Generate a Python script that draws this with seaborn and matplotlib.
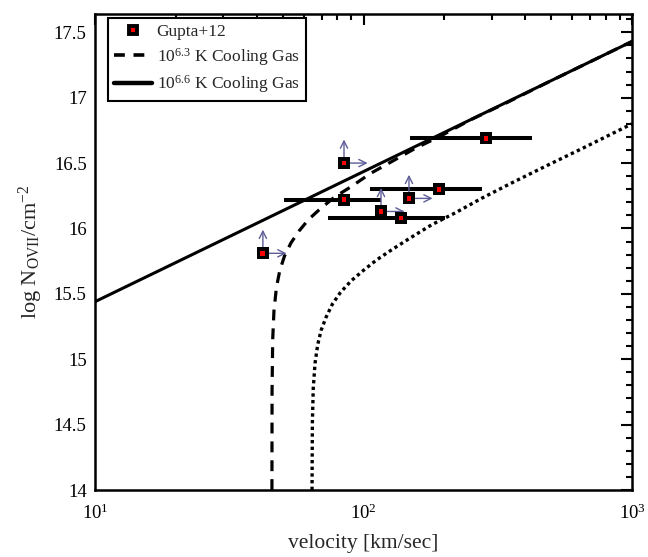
import math
import matplotlib
matplotlib.use("Agg")
import matplotlib.pyplot as plt
import matplotlib.ticker as mticker
from matplotlib.lines import Line2D
import seaborn as sns
import pandas as pd

# ---- data ----
solid_v = [10, 1000]
solid_logN = [15.44, 17.43]

dashed_v = [45.6, 45.65, 45.9, 46.4, 47.4, 48.8, 50.8, 53.7, 57.5, 62.5, 69, 78, 90, 106,
            127, 155, 195, 250, 340, 500, 1000]
dashed_logN = [14.0, 14.76, 15.15, 15.37, 15.55, 15.68, 15.79, 15.89, 15.98, 16.07, 16.15,
               16.24, 16.32, 16.42, 16.51, 16.61, 16.71, 16.83, 16.96, 17.13, 17.43]

dotted_v = [64.32, 64.5, 65.0, 66.0, 67.5, 69.5, 72.5, 76.5, 82, 90, 100, 112, 128, 150,
            180, 220, 275, 350, 470, 650, 1000]
dotted_logN = [14.0, 14.51, 14.78, 14.97, 15.11, 15.22, 15.32, 15.42, 15.51, 15.60, 15.68,
               15.76, 15.84, 15.93, 16.03, 16.12, 16.23, 16.34, 16.47, 16.61, 16.80]

# Gupta+12 measurements with velocity ranges
err_v = [84.6, 137.9, 191.1, 285.8]
err_logN = [16.22, 16.08, 16.30, 16.69]
err_vlo = [50.6, 73.8, 105.7, 149.0]
err_vhi = [116.2, 201.2, 276.2, 424.2]

# Gupta+12 lower limits
lim_v = [42.2, 84.6, 147.7, 116.2]
lim_logN = [15.81, 16.50, 16.23, 16.13]

legend_labels = ["Gupta+12", r"$10^{6.3}$ K Cooling Gas", r"$10^{6.6}$ K Cooling Gas"]

# ---- style ----
sns.set_theme(style="white")
plt.rcParams['font.family'] = ['Liberation Serif', 'DejaVu Serif']
plt.rcParams['mathtext.fontset'] = 'custom'
plt.rcParams['mathtext.rm'] = 'Liberation Serif'
plt.rcParams['mathtext.it'] = 'Liberation Serif:italic'

W, H = 648, 557
fig = plt.figure(figsize=(W / 100, H / 100), dpi=100)
ax = fig.add_axes([95 / W, 1 - 490 / H, (632 - 95) / W, (490 - 14) / H])

sns.lineplot(x=solid_v, y=solid_logN, ax=ax, color='black', lw=2.2, sort=False, estimator=None)
sns.lineplot(x=dashed_v, y=dashed_logN, ax=ax, color='black', lw=2.3, sort=False,
             estimator=None, linestyle=(0, (3.4, 2.5)))
sns.lineplot(x=dotted_v, y=dotted_logN, ax=ax, color='black', lw=2.4, sort=False,
             estimator=None, linestyle=(0, (1.0, 1.0)))

# horizontal error bars
for v, n, lo, hi in zip(err_v, err_logN, err_vlo, err_vhi):
    ax.plot([lo, hi], [n, n], color='black', lw=2.9, solid_capstyle='butt', zorder=3)

# lower-limit arrows
arrow_col = '#5d5d98'
for v, n in zip(lim_v, lim_logN):
    ax.annotate('', xy=(v, n), xytext=(0, 17), textcoords='offset points',
                arrowprops=dict(arrowstyle='<-', color=arrow_col, lw=1.0,
                                shrinkA=0, shrinkB=4, mutation_scale=13), zorder=3)
    ax.annotate('', xy=(v, n), xytext=(17, 0), textcoords='offset points',
                arrowprops=dict(arrowstyle='<-', color=arrow_col, lw=1.0,
                                shrinkA=0, shrinkB=4, mutation_scale=13), zorder=3)

pts = pd.DataFrame({'v': err_v + lim_v, 'logN': err_logN + lim_logN})
sns.scatterplot(data=pts, x='v', y='logN', ax=ax, marker='s', s=70, color='black',
                edgecolor='black', linewidth=0, zorder=4)
sns.scatterplot(data=pts, x='v', y='logN', ax=ax, marker='s', s=12, color='red',
                edgecolor='none', linewidth=0, zorder=5)

ax.set_xscale('log')
ax.set_xlim(10, 1000)
ax.set_ylim(14, 17.64)

ax.yaxis.set_major_locator(mticker.MultipleLocator(0.5))
ax.yaxis.set_minor_locator(mticker.MultipleLocator(0.1))
ax.yaxis.set_major_formatter(mticker.FuncFormatter(lambda y, p: f"{y:g}"))
ax.xaxis.set_major_locator(mticker.LogLocator(base=10))
ax.xaxis.set_minor_locator(mticker.LogLocator(base=10, subs=range(2, 10)))
ax.xaxis.set_minor_formatter(mticker.NullFormatter())
ax.xaxis.set_major_formatter(mticker.FuncFormatter(lambda x, p: r"$10^{%d}$" % round(math.log10(x))))

ax.tick_params(which='both', direction='in', top=True, right=True, colors='black',
               labelsize=13.5, width=1.5)
ax.tick_params(which='major', length=8)
ax.tick_params(axis='y', which='major', pad=6)
ax.tick_params(axis='x', which='major', pad=10)
ax.tick_params(which='minor', length=4.5)
for s in ax.spines.values():
    s.set_linewidth(1.8)
    s.set_color('black')

ax.set_xlabel("velocity [km/sec]", fontsize=15.5, labelpad=8)
ax.set_ylabel(r"log N$_{\rm OVII}$/cm$^{-2}$", fontsize=16, labelpad=6)

handles = [
    Line2D([], [], marker='s', color='none', markerfacecolor='red', markeredgecolor='black',
           markersize=6, markeredgewidth=2.8),
    Line2D([], [], color='black', lw=2.6, linestyle=(0, (3, 2.4))),
    Line2D([], [], color='black', lw=3.2),
]
leg = ax.legend(handles, legend_labels, loc='upper left',
                bbox_to_anchor=(108 / W, 1 - 18 / H), bbox_transform=fig.transFigure,
                fontsize=12.5, frameon=True, fancybox=False, edgecolor='black',
                handlelength=2.2, borderpad=0.35, labelspacing=0.32, handletextpad=0.25,
                borderaxespad=0)
leg.get_frame().set_linewidth(1.5)
leg.get_frame().set_alpha(1)

fig.savefig("out.png", dpi=100)
